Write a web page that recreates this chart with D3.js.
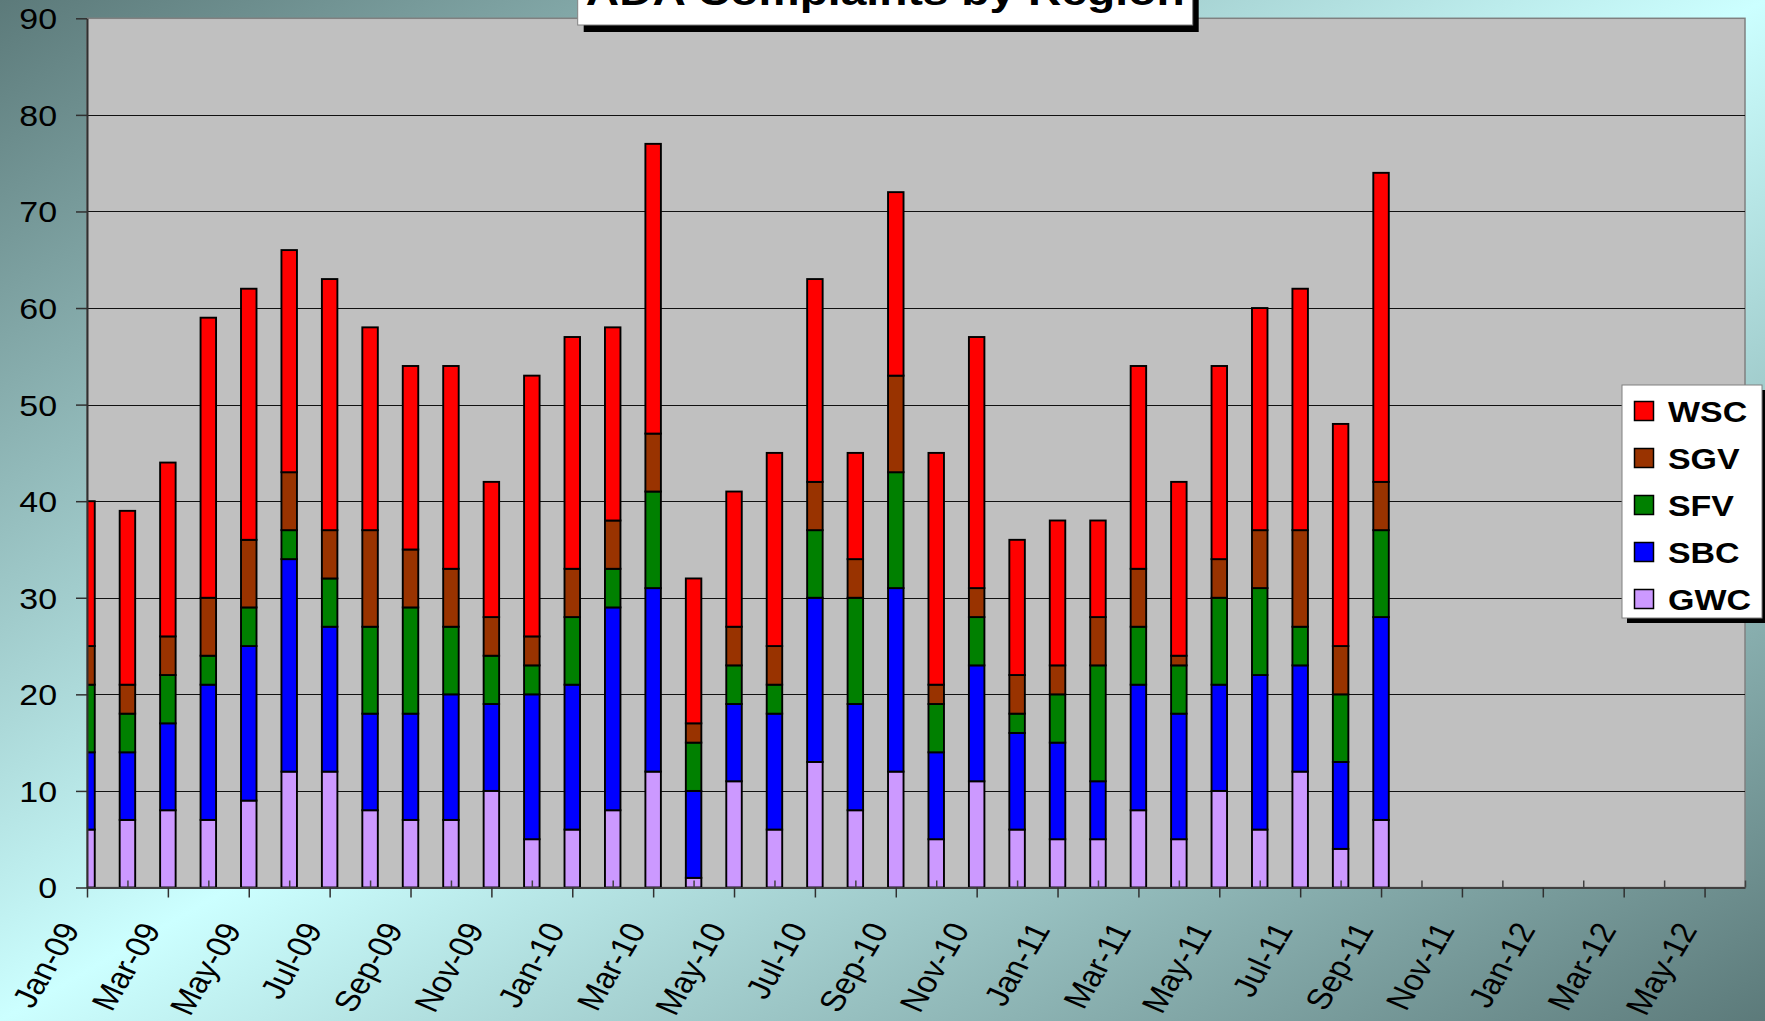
<!DOCTYPE html>
<html>
<head>
<meta charset="utf-8">
<script src="https://cdn.jsdelivr.net/npm/d3@7"></script>
<style>
  html, body { margin: 0; padding: 0; overflow: hidden; }
  svg { display: block; }
  text { font-family: "Liberation Sans", Arial, sans-serif; }
</style>
</head>
<body>
<svg id="chart" width="1765" height="1021"></svg>
<script>
// ---- data ----
const months = ["Jan-09","Feb-09","Mar-09","Apr-09","May-09","Jun-09","Jul-09","Aug-09","Sep-09","Oct-09","Nov-09","Dec-09",
                "Jan-10","Feb-10","Mar-10","Apr-10","May-10","Jun-10","Jul-10","Aug-10","Sep-10","Oct-10","Nov-10","Dec-10",
                "Jan-11","Feb-11","Mar-11","Apr-11","May-11","Jun-11","Jul-11","Aug-11","Sep-11"];
const GWC = [6,7,8,7,9,12,12,8,7,7,10,5,6,8,12,1,11,6,13,8,12,5,11,6,5,5,8,5,10,6,12,4,7];
const SBC = [8,7,9,14,16,22,15,10,11,13,9,15,15,21,19,9,8,12,17,11,19,9,12,10,10,6,13,13,11,16,11,9,21];
const SFV = [7,4,5,3,4,3,5,9,11,7,5,3,7,4,10,5,4,3,7,11,12,5,5,2,5,12,6,5,9,9,4,7,9];
const SGV = [4,3,4,6,7,6,5,10,6,6,4,3,5,5,6,2,4,4,5,4,10,2,3,4,3,5,6,1,4,6,10,5,5];
const WSC = [15,18,18,29,26,23,26,21,19,21,14,27,24,20,30,15,14,20,21,11,19,24,26,14,15,10,21,18,20,23,25,23,32];
const seriesKeys = ["GWC","SBC","SFV","SGV","WSC"];
const legendKeys = ["WSC","SGV","SFV","SBC","GWC"];
const colors = {WSC:"#FF0000", SGV:"#993300", SFV:"#008000", SBC:"#0000FF", GWC:"#CC99FF"};
const tickLabels = ["Jan-09","Mar-09","May-09","Jul-09","Sep-09","Nov-09","Jan-10","Mar-10","May-10","Jul-10","Sep-10",
                    "Nov-10","Jan-11","Mar-11","May-11","Jul-11","Sep-11","Nov-11","Jan-12","Mar-12","May-12"];
const yTicks = [0,10,20,30,40,50,60,70,80,90];
const totalMonths = 41; // Jan-09 .. Jun-12
const title = "ADA Complaints by Region";

// ---- layout ----
const W = 1765, H = 1021;
const SX = 1.17; // horizontal text stretch seen in the reference
const plot = {left: 87, right: 1745, top: 18.3, bottom: 887.5};
const svg = d3.select("#chart");
const defs = svg.append("defs");

const grad = defs.append("linearGradient").attr("id","bg")
  .attr("x1",0).attr("y1",0).attr("x2",1).attr("y2",1);
grad.append("stop").attr("offset","0%").attr("stop-color","#5c7a7a");
grad.append("stop").attr("offset","50%").attr("stop-color","#ccffff");
grad.append("stop").attr("offset","100%").attr("stop-color","#5c7a7a");
svg.append("rect").attr("width",W).attr("height",H).attr("fill","url(#bg)");

defs.append("clipPath").attr("id","plotclip").append("rect")
  .attr("x",plot.left).attr("y",plot.top - 2)
  .attr("width",plot.right-plot.left).attr("height",plot.bottom-plot.top + 2);

const x = d3.scaleLinear().domain([0,totalMonths]).range([plot.left, plot.right]);
const y = d3.scaleLinear().domain([0,90]).range([plot.bottom, plot.top]);

// plot area
svg.append("rect").attr("x",plot.left).attr("y",plot.top)
  .attr("width",plot.right-plot.left).attr("height",plot.bottom-plot.top)
  .attr("fill","#C0C0C0").attr("stroke","#808080").attr("stroke-width",1.5);

// gridlines
svg.append("g").selectAll("line").data(yTicks.filter(d=>d>0 && d<90)).join("line")
  .attr("x1",plot.left).attr("x2",plot.right)
  .attr("y1",d=>Math.round(y(d))+0.5).attr("y2",d=>Math.round(y(d))+0.5)
  .attr("stroke","#111").attr("stroke-width",1);

// bars
const table = months.map((m,i)=>({i, GWC:GWC[i], SBC:SBC[i], SFV:SFV[i], SGV:SGV[i], WSC:WSC[i]}));
const stacked = d3.stack().keys(seriesKeys)(table);
const bw = 15.5;
svg.append("g").attr("clip-path","url(#plotclip)")
  .selectAll("g").data(stacked).join("g")
  .attr("fill",d=>colors[d.key])
  .selectAll("rect").data(d=>d).join("rect")
  .attr("x",d=>x(d.data.i)-bw/2).attr("width",bw)
  .attr("y",d=>y(d[1])).attr("height",d=>y(d[0])-y(d[1]))
  .attr("stroke","#000").attr("stroke-width",1.9);

// x axis
const major = d3.range(0,totalMonths,2);
const minor = d3.range(1,totalMonths+1,2);
const xAxisG = svg.append("g").attr("transform",`translate(0,${plot.bottom})`);
xAxisG.call(d3.axisBottom(x).tickValues(minor).tickSize(-7).tickFormat(""))
  .call(g=>g.select(".domain").remove());
xAxisG.selectAll("line").attr("stroke","#404040").attr("stroke-width",1.5);
const xMajorG = svg.append("g").attr("transform",`translate(0,${plot.bottom})`);
xMajorG.call(d3.axisBottom(x).tickValues(major).tickSize(10).tickSizeOuter(0)
   .tickFormat((d,k)=>tickLabels[k]));
xMajorG.select(".domain").attr("stroke","#404040").attr("stroke-width",2);
xMajorG.selectAll(".tick line").attr("stroke","#303030").attr("stroke-width",1.5);
xMajorG.selectAll(".tick text")
  .attr("x",0).attr("y",0).attr("dy",null)
  .attr("text-anchor","end")
  .attr("font-size",29.5).attr("fill","#000")
  .attr("transform",`translate(-7,42) scale(${SX},1) rotate(-63)`);

// y axis
const yAxisG = svg.append("g").attr("transform",`translate(${plot.left},0)`);
yAxisG.call(d3.axisLeft(y).tickValues(yTicks).tickSize(11).tickSizeOuter(0));
yAxisG.select(".domain").attr("stroke","#303030").attr("stroke-width",2);
yAxisG.selectAll(".tick line").attr("stroke","#303030").attr("stroke-width",1.5);
yAxisG.selectAll(".tick text")
  .attr("x",0).attr("dy","0.36em")
  .attr("text-anchor","end").attr("font-size",29).attr("fill","#000")
  .attr("transform",`translate(-30,0) scale(${SX},1)`);

// title
const tb = {x:577.7, y:-25, w:615, h:50};
svg.append("rect").attr("x",tb.x+6).attr("y",tb.y+7).attr("width",tb.w).attr("height",tb.h).attr("fill","#000");
svg.append("rect").attr("x",tb.x).attr("y",tb.y).attr("width",tb.w).attr("height",tb.h)
  .attr("fill","#fff").attr("stroke","#808080").attr("stroke-width",1);
svg.append("text").attr("text-anchor","middle").attr("font-weight","bold").attr("font-size",39.5)
  .attr("transform",`translate(${tb.x+tb.w/2},5) scale(${SX},1)`).text(title);

// legend
const lb = {x:1622, y:385, w:140, h:233};
svg.append("rect").attr("x",lb.x+5).attr("y",lb.y+5).attr("width",lb.w).attr("height",lb.h).attr("fill","#000");
svg.append("rect").attr("x",lb.x).attr("y",lb.y).attr("width",lb.w).attr("height",lb.h)
  .attr("fill","#fff").attr("stroke","#808080").attr("stroke-width",1);
const li = svg.append("g").selectAll("g").data(legendKeys).join("g")
  .attr("transform",(d,i)=>`translate(${lb.x},${lb.y + 26 + i*47})`);
li.append("rect").attr("x",12.5).attr("y",-9.5).attr("width",19).attr("height",19)
  .attr("fill",d=>colors[d]).attr("stroke","#000").attr("stroke-width",1.5);
li.append("text").attr("font-weight","bold").attr("font-size",29)
  .attr("transform",`translate(46,10.5) scale(${SX},1)`).text(d=>d);
</script>
</body>
</html>
